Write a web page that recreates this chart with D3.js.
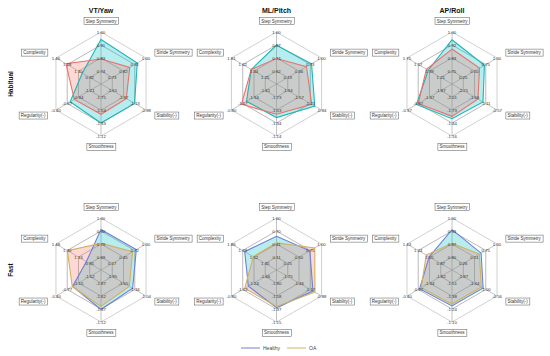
<!DOCTYPE html>
<html><head><meta charset="utf-8">
<script src="https://cdn.jsdelivr.net/npm/d3@7"></script>
<style>body{margin:0;background:#fff}svg{display:block}text{font-family:"Liberation Sans",Arial,sans-serif}</style>
</head><body>
<script>
const measures = ["Step Symmetry","Stride Symmetry","Stability(-)","Smoothness","Regularity(-)","Complexity"];
const directions = ["VT/Yaw","ML/Pitch","AP/Roll"];
const speeds = ["Habitual","Fast"];
const groups = ["Healthy","OA"];

// axis range per panel: value at centre and value at outer ring
const axisMinHabitual = [
  [0.653, 0.64, -1.86, -1.96, -1.48, 0.74],
  [0.49, -0.08, -2.31, -1.93, -1.88, 1.06],
  [0.665, 0.00, -2.75, -2.30, -2.37, 1.03]
];
const axisMaxHabitual = [
  [1.00, 1.00, -0.88, -1.12, -0.40, 1.46],
  [1.00, 1.00, -0.84, -1.14, -0.80, 1.81],
  [1.00, 1.00, -0.57, -1.16, -0.37, 1.75]
];
const axisMinFast = [
  [0.59, -0.11, -2.25, -2.12, -1.89, 0.77],
  [-0.19, 0.00, -2.04, -2.02, -1.68, 1.18],
  [0.733, 0.01, -2.31, -1.65, -2.29, 0.68]
];
const axisMaxFast = [
  [1.00, 1.00, -1.04, -1.12, -0.40, 1.48],
  [1.00, 1.00, -0.88, -1.15, -0.80, 1.86],
  [1.00, 1.00, -0.56, -1.10, -0.40, 1.43]
];

// series values (direction x measure)
const healthyHabitual = [
  [0.95, 0.93, -1.13, -1.33, -0.74, 1.04],
  [0.87, 0.76, -1.06, -1.42, -1.16, 1.48],
  [0.95, 0.72, -1.25, -1.54, -0.79, 1.41]
];
const oaHabitual = [
  [0.82, 0.87, -1.31, -1.47, -0.84, 1.30],
  [0.74, 0.64, -1.16, -1.47, -1.04, 1.48],
  [0.89, 0.61, -1.49, -1.59, -0.87, 1.44]
];
const healthyFast = [
  [0.91, 0.76, -1.40, -1.36, -0.95, 1.00],
  [0.58, 0.74, -1.10, -1.39, -1.13, 1.66],
  [0.94, 0.65, -1.10, -1.27, -0.93, 1.06]
];
const oaFast = [
  [0.80, 0.67, -1.49, -1.42, -0.94, 1.30],
  [0.43, 0.85, -1.05, -1.41, -1.06, 1.53],
  [0.87, 0.61, -1.17, -1.29, -1.00, 1.11]
];
const gridLevels = [0.25, 0.5, 0.75, 1];

const strokeColors = {Habitual: {Healthy: "#1fb5b8", OA: "#e8726a"}, Fast: {Healthy: "#6f7fd6", OA: "#d2b160"}};
const fillColors = {Healthy: "#00BFC4", OA: "#F8766D"};

const W = 550, H = 356;
const svg = d3.select("body").append("svg").attr("width", W).attr("height", H);

const colX = d3.scalePoint().domain(directions).range([101, 452]);
const rowY = d3.scalePoint().domain(speeds).range([84, 270]);
const R = 52;
const angle = d3.scalePoint().domain(measures).range([0, 2 * Math.PI * 5 / 6]);

function pt(a, r) { return [r * Math.sin(a), -r * Math.cos(a)]; }

const data = {
  Habitual: {min: axisMinHabitual, max: axisMaxHabitual, Healthy: healthyHabitual, OA: oaHabitual},
  Fast: {min: axisMinFast, max: axisMaxFast, Healthy: healthyFast, OA: oaFast}
};

speeds.forEach(sp => {
  directions.forEach((dir, di) => {
    const g = svg.append("g").attr("transform", `translate(${colX(dir)},${rowY(sp)})`);
    const scales = measures.map((m, i) => d3.scaleLinear().domain([data[sp].min[di][i], data[sp].max[di][i]]).range([0, R]));
    // grid
    const hex = d3.lineRadial().angle(d => angle(d)).curve(d3.curveLinearClosed);
    gridLevels.forEach(l => {
      g.append("path").attr("d", hex.radius(R * l)(measures))
        .attr("fill", "none").attr("stroke", l === 1 ? "#b0b0b0" : "#8a8a8a").attr("stroke-width", 0.6);
    });
    measures.forEach(m => {
      const [x, y] = pt(angle(m), R);
      g.append("line").attr("x1", 0).attr("y1", 0).attr("x2", x).attr("y2", y)
        .attr("stroke", "#9a9a9a").attr("stroke-width", 0.6);
    });
    // series
    groups.forEach(grp => {
      const vals = data[sp][grp][di];
      const line = d3.lineRadial().angle((d, i) => angle(measures[i])).radius((d, i) => scales[i](d)).curve(d3.curveLinearClosed);
      g.append("path").attr("d", line(vals)).attr("fill", fillColors[grp]).attr("fill-opacity", 0.28).attr("stroke", "none");
    });
    groups.forEach(grp => {
      const vals = data[sp][grp][di];
      const line = d3.lineRadial().angle((d, i) => angle(measures[i])).radius((d, i) => scales[i](d)).curve(d3.curveLinearClosed);
      g.append("path").attr("d", line(vals)).attr("fill", "none").attr("stroke", strokeColors[sp][grp]).attr("stroke-width", 1.1);
    });
    // tick labels
    measures.forEach((m, i) => {
      gridLevels.forEach(l => {
        const [x, y] = pt(angle(m), R * l);
        g.append("text").attr("x", x).attr("y", y).attr("dy", "0.35em")
          .attr("text-anchor", "middle").attr("font-size", 4.3).attr("fill", "#333")
          .text(scales[i].invert(R * l).toFixed(2));
      });
    });
    // axis name boxes
    measures.forEach(m => {
      const a = angle(m);
      const [x, y] = pt(a, R * 1.21);
      const s = Math.sin(a);
      const anchor = Math.abs(s) < 0.01 ? "middle" : (s > 0 ? "start" : "end");
      const t = g.append("text").attr("x", x + (anchor === "start" ? 1 : anchor === "end" ? -1 : 0)).attr("y", y).attr("dy", "0.35em")
        .attr("text-anchor", anchor).attr("font-size", 4.5).attr("fill", "#333").text(m);
      const bb = t.node().getBBox();
      g.insert("rect", () => t.node()).attr("x", bb.x - 1.6).attr("y", bb.y - 1).attr("width", bb.width + 3.2).attr("height", bb.height + 2)
        .attr("fill", "#fff").attr("stroke", "#555").attr("stroke-width", 0.5);
    });
    if (sp === "Habitual") {
      svg.append("text").attr("x", colX(dir)).attr("y", 12.5).attr("text-anchor", "middle")
        .attr("font-size", 7).attr("font-weight", "bold").attr("fill", "#111").text(dir);
    }
  });
  svg.append("text").attr("transform", `translate(13,${rowY(sp)}) rotate(-90)`).attr("text-anchor", "middle")
    .attr("font-size", 6.5).attr("font-weight", "bold").attr("fill", "#111").text(sp);
});

// legend
const leg = svg.append("g").attr("transform", "translate(241,348)");
const legColors = [strokeColors.Fast.Healthy, strokeColors.Fast.OA];
groups.forEach((grp, i) => {
  const x0 = i * 46;
  leg.append("line").attr("x1", x0).attr("x2", x0 + 19).attr("y1", 0).attr("y2", 0).attr("stroke", legColors[i]).attr("stroke-width", 1);
  leg.append("text").attr("x", x0 + 22).attr("y", 0).attr("dy", "0.35em").attr("font-size", 5).attr("fill", "#444").text(grp);
});
</script>
</body></html>
